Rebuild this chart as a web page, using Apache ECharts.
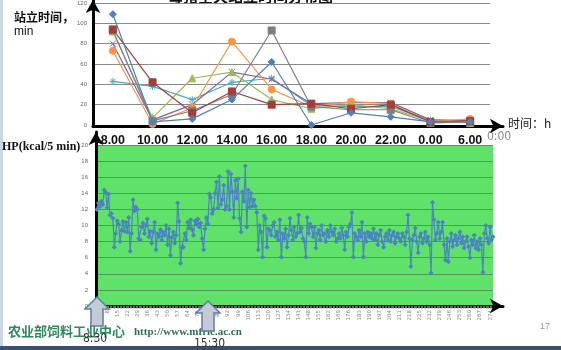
<!DOCTYPE html>
<html>
<head>
<meta charset="utf-8">
<script src="https://cdn.jsdelivr.net/npm/echarts@6/dist/echarts.min.js"></script>
<style>
  html, body { margin: 0; padding: 0; background: #ffffff; }
  #chart { width: 561px; height: 350px; }
</style>
</head>
<body>
<div id="chart"></div>
<script>
// Time-of-day categories for the standing-time panel
const hours = ['8.00', '10.00', '12.00', '14.00', '16.00', '18.00', '20.00', '22.00', '0.00', '6.00'];

// Standing time (min) per sow at each time slot
const standDiamond  = [109, 3, 6, 25, 62, 0, 12, 8, 3, 3];
const standSquare   = [94, 42, 12, 33, 20, 21, 16, 20, 3, 4];
const standTriangle = [92, 7, 46, 52, 25, 16, 20, 16, 4, 2];
const standCross    = [80, 5, 20, 52, 45, 21, 22, 22, 5, 4];
const standStar     = [43, 38, 25, 42, 46, 19, 18, 18, 5, 4];
const standCircle   = [73, 1, 17, 82, 35, 18, 23, 21, 3, 6];
const standGrey     = [93, 4, 14, 30, 93, 18, 15, 15, 2, 3];

// Heat production, kcal per 5-minute interval, from 8:30 onward
const hp = [
  12.0, 12.8, 12.3, 13.0, 12.6, 14.4, 14.1, 12.2, 13.9, 11.3,
  11.5, 10.9, 7.3, 9.0, 10.6, 10.2, 8.0, 9.4, 10.5, 9.3,
  10.4, 9.2, 11.0, 6.8, 9.0, 13.2, 11.8, 12.3, 12.0, 8.4,
  8.2, 9.8, 10.3, 9.0, 10.0, 10.8, 8.6, 9.3, 7.8, 9.2,
  10.4, 7.0, 9.0, 8.6, 9.5, 8.2, 9.2, 8.8, 10.0, 7.6,
  9.6, 6.3, 8.5, 9.2, 7.8, 8.8, 12.8, 10.5, 5.3, 7.3,
  7.3, 9.0, 8.2, 10.4, 9.7, 10.7, 9.5, 8.8, 10.6, 10.2,
  10.8, 9.8, 10.3, 8.4, 7.0, 9.6, 11.0, 10.2, 13.9, 13.5,
  11.5, 12.0, 14.0, 15.4, 12.2, 16.1, 12.6, 13.2, 15.0, 12.0,
  12.4, 16.7, 12.0, 16.4, 14.2, 11.0, 15.6, 13.4, 15.8, 10.9,
  9.2, 14.2, 13.0, 17.4, 9.8, 14.4, 12.3, 14.0, 12.4, 13.2,
  12.4, 11.6, 7.0, 10.0, 9.2, 6.1, 11.2, 10.9, 7.3, 9.6,
  9.4, 8.8, 10.0, 10.4, 8.6, 9.2, 8.2, 10.7, 6.1, 9.0,
  8.4, 9.6, 7.3, 8.8, 10.9, 9.4, 8.2, 9.8, 8.6, 9.0,
  11.3, 9.2, 9.7, 8.4, 8.0, 6.1, 11.0, 9.0, 10.2, 9.8,
  8.6, 9.8, 7.2, 9.0, 9.4, 8.2, 10.0, 8.8, 9.0, 8.0,
  9.4, 8.6, 10.0, 9.2, 8.8, 9.6, 8.0, 8.4, 9.0, 8.4,
  9.7, 8.8, 7.0, 9.2, 8.6, 9.8, 10.2, 11.6, 6.1, 9.0,
  8.6, 8.2, 9.4, 8.6, 10.4, 6.1, 9.0, 8.0, 9.2, 8.6,
  9.0, 8.4, 9.6, 8.2, 9.0, 7.6, 8.8, 9.4, 8.0, 7.3,
  8.6, 9.0, 8.2, 9.4, 8.0, 8.8, 9.2, 7.8, 8.6, 9.0,
  8.4, 8.0, 9.0, 8.6, 7.6, 9.2, 11.3, 8.4, 4.9, 8.2,
  8.8, 9.7, 8.0, 6.6, 8.6, 9.0, 7.8, 8.4, 9.2, 8.0,
  8.6, 7.6, 4.1, 12.9, 10.7, 8.2, 9.0, 10.4, 8.4, 9.2,
  10.4, 7.6, 5.7, 8.4, 5.5, 8.0, 9.0, 7.4, 8.2, 8.8,
  7.6, 8.4, 9.2, 7.8, 8.6, 7.2, 8.0, 8.6, 7.4, 6.0,
  8.2, 7.6, 8.8, 7.2, 8.0, 7.0, 8.4, 7.6, 4.2, 9.0,
  10.0, 8.4, 7.8, 9.8, 8.2, 8.6
];
// Interval numbers shown under the HP axis (1, 8, 15, ...)
const hpIndex = hp.map((_, i) => String(i + 1));

const chart = echarts.init(document.getElementById('chart'), null, { renderer: 'canvas' });

function standLine(data, color, symbol, size) {
  return {
    type: 'line', xAxisIndex: 0, yAxisIndex: 0, data: data,
    symbol: symbol, symbolSize: size, showAllSymbol: true,
    lineStyle: { color: color, width: 1.2 },
    itemStyle: { color: color, borderColor: color },
    animation: false
  };
}

const starPath = 'path://M0,-10 L0,10 M-10,0 L10,0 M-7,-7 L7,7 M-7,7 L7,-7';
const crossPath = 'path://M-8,-8 L8,8 M-8,8 L8,-8';

const blackArrowLine = { show: true, lineStyle: { color: '#000', width: 3 }, symbol: ['none', 'arrow'], symbolSize: [11, 13] };

const option = {
  backgroundColor: '#ffffff',
  animation: false,
  grid: [
    { left: 93, top: 2, width: 397, height: 123 },
    { left: 97, top: 145, width: 396, height: 161, show: true, backgroundColor: '#60e26a', borderWidth: 0 },
    { left: 93, top: 0, width: 410, height: 126 },
    { left: 96, top: 132, width: 407, height: 174 }
  ],
  xAxis: [
    {
      type: 'category', gridIndex: 0, data: hours, boundaryGap: true,
      axisLine: { show: false }, axisTick: { show: false },
      axisLabel: { interval: 0, hideOverlap: false, color: '#111', fontSize: 12.5, fontWeight: 'bold', fontFamily: 'Liberation Sans', margin: 9 }
    },
    {
      type: 'category', gridIndex: 1, data: hpIndex, boundaryGap: false,
      axisLine: { show: false },
      axisTick: { show: true, interval: 0, length: 3, lineStyle: { color: '#aaa', width: 0.6 } },
      axisLabel: { interval: 6, rotate: 90, fontSize: 5.5, color: '#888', margin: 4, fontFamily: 'DejaVu Sans' }
    },
    {
      type: 'value', gridIndex: 2, min: 0, max: 1,
      axisLine: blackArrowLine, axisTick: { show: false }, axisLabel: { show: false }, splitLine: { show: false }
    },
    {
      type: 'value', gridIndex: 3, min: 0, max: 1,
      axisLine: blackArrowLine, axisTick: { show: false }, axisLabel: { show: false }, splitLine: { show: false }
    }
  ],
  yAxis: [
    {
      type: 'value', gridIndex: 0, min: 0, max: 120, interval: 20,
      axisLine: { show: false }, axisTick: { show: false },
      axisLabel: { fontSize: 6, color: '#666', margin: 6 },
      splitLine: { lineStyle: { color: '#8a8a8a', width: 1 } }
    },
    {
      type: 'value', gridIndex: 1, min: 0, max: 20, interval: 2,
      axisLine: { show: false }, axisTick: { show: false },
      axisLabel: { fontSize: 6, color: '#666', margin: 9 },
      splitLine: { lineStyle: { color: '#4f9a56', width: 1.2 } }
    },
    {
      type: 'value', gridIndex: 2, min: 0, max: 1,
      axisLine: blackArrowLine, axisTick: { show: false }, axisLabel: { show: false }, splitLine: { show: false }
    },
    {
      type: 'value', gridIndex: 3, min: 0, max: 1,
      axisLine: blackArrowLine, axisTick: { show: false }, axisLabel: { show: false }, splitLine: { show: false }
    }
  ],
  series: [
    standLine(standStar, '#4bacc6', starPath, 7),
    standLine(standCross, '#8064a2', crossPath, 6),
    standLine(standTriangle, '#9bbb59', 'triangle', 7),
    standLine(standCircle, '#f79646', 'circle', 7),
    standLine(standGrey, '#7f7f7f', 'rect', 7),
    standLine(standSquare, '#a0403c', 'rect', 7),
    standLine(standDiamond, '#4f81bd', 'diamond', 7),
    {
      type: 'line', xAxisIndex: 1, yAxisIndex: 1, data: hp,
      symbol: 'diamond', symbolSize: 5, showAllSymbol: true,
      lineStyle: { color: '#4a84c2', width: 1.2 },
      itemStyle: { color: '#4a84c2' },
      animation: false
    }
  ],
  graphic: [
    { type: 'rect', shape: { x: 0, y: 0, width: 3, height: 347 }, style: { fill: '#c9d6e4' }, silent: true },
    { type: 'rect', shape: { x: 0, y: 346, width: 561, height: 4 }, style: { fill: '#3c4f6f' }, silent: true },
    { type: 'text', left: 168, top: -11, style: { text: '母猪全天站立时间分布图', font: 'bold 15px "Noto Sans CJK SC"', fill: '#111' } },
    { type: 'text', left: 14, top: 11, style: { text: '站立时间，', font: 'bold 12px "Noto Sans CJK SC"', fill: '#111' } },
    { type: 'text', left: 14, top: 26, style: { text: 'min', font: '12px "Liberation Sans"', fill: '#111' } },
    { type: 'text', left: 508, top: 117, style: { text: '时间：h', font: '12px "Noto Sans CJK SC"', fill: '#222' } },
    { type: 'text', left: 487, top: 131, style: { text: '0:00', font: '12px "DejaVu Sans Condensed"', fill: '#8a8a8a' } },
    { type: 'text', left: 2, top: 141, style: { text: 'HP(kcal/5 min)', font: 'bold 12px "Liberation Serif"', fill: '#111' } },
    { type: 'text', left: 540, top: 322, style: { text: '17', font: '9px "Liberation Sans"', fill: '#999' } },
    { type: 'text', left: 8, top: 325, style: { text: '农业部饲料工业中心', font: 'bold 13px "Noto Sans CJK SC"', fill: '#2f8a5e' } },
    { type: 'text', left: 134, top: 327, style: { text: 'http://www.mfric.ac.cn', font: 'bold 11px "Liberation Serif"', fill: '#2f6f55' } },
    {
      type: 'polygon', z: 100,
      shape: { points: [[97, 297], [85, 309], [91, 309], [91, 326], [103, 326], [103, 309], [109, 309]] },
      style: { fill: '#c4cad6', stroke: '#5f7ea4', lineWidth: 1.5 }
    },
    {
      type: 'polygon', z: 100,
      shape: { points: [[208, 301], [196, 313], [202, 313], [202, 331], [214, 331], [214, 313], [220, 313]] },
      style: { fill: '#c4cad6', stroke: '#5f7ea4', lineWidth: 1.5 }
    },
    { type: 'text', z: 101, left: 83, top: 333, style: { text: '8:30', font: '12px "DejaVu Sans Condensed"', fill: '#333' } },
    { type: 'text', z: 101, left: 194, top: 338, style: { text: '15:30', font: '12px "DejaVu Sans Condensed"', fill: '#333' } }
  ]
};

chart.setOption(option);
</script>
</body>
</html>
